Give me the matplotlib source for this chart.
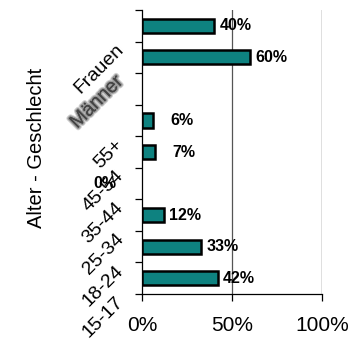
import matplotlib as mpl
mpl.use('Agg')
import matplotlib.pyplot as plt
import matplotlib.patheffects as pe
import matplotlib.transforms as mtrans
import numpy as np

plt.rcParams['font.family'] = ['Liberation Sans', 'DejaVu Sans']

# bottom to top; the empty slot separates the age groups from gender
categories = ['15-17', '18-24', '25-34', '35-44', '45-54', '55+', '', 'Männer', 'Frauen']
shares = [42, 33, 12, 0, 7, 6, None, 60, 40]
x_ticks = [0, 50, 100]
x_labels = ['0%', '50%', '100%']

fig = plt.figure(figsize=(3.57, 3.40), dpi=100)
ax = fig.add_axes([142/357., 1 - 294/340., 180/357., 284/340.])

pos = np.arange(len(categories))
for p, v in zip(pos, shares):
    if v is None:
        continue
    # a zero bar has no outline either
    ax.barh(p, v, height=0.45, color='#0E8280', edgecolor='black',
            linewidth=1.8 if v > 0 else 0, zorder=3)
    # small values get their label pushed further out, zero lands left of the axis
    if v == 0:
        lx = -27
    elif v < 10:
        lx = v + 10
    else:
        lx = v + 3
    ax.text(lx, p, '%d%%' % v, fontsize=11.5, fontweight='bold', va='center', ha='left',
            clip_on=False, zorder=4)

# category labels, rotated and shifted below their slot
lab_trans = mtrans.blended_transform_factory(ax.transAxes, ax.transData)
for p, c in zip(pos, categories):
    if not c:
        continue
    kw = {}
    if c == 'Männer':
        # smeared grey label
        kw = dict(color='#444444',
                  path_effects=[pe.withStroke(linewidth=3.5, foreground='#d0d0d0'),
                                pe.withStroke(linewidth=2.0, foreground='#999999'),
                                pe.Normal()])
    ax.text(-0.117, p - 0.68, c, transform=lab_trans, rotation=45, rotation_mode='anchor',
            ha='right', va='center', fontsize=14, clip_on=False, **kw)

ax.axvline(50, color='#555555', lw=0.9, zorder=1)
ax.axvline(100, color='black', lw=0.9, zorder=1)

ax.set_xlim(0, 100)
ax.set_ylim(-0.5, len(categories) - 0.5)
ax.set_xticks(x_ticks)
ax.set_xticklabels(x_labels, fontsize=15)
ax.set_yticks(np.arange(-0.5, len(categories), 1))
ax.set_yticklabels([])
ax.tick_params(axis='both', direction='out', length=5, width=0.9, color='black')
ax.tick_params(axis='x', pad=11)

for s in ['top', 'right']:
    ax.spines[s].set_visible(False)
for s in ['left', 'bottom']:
    ax.spines[s].set_linewidth(0.9)
    ax.spines[s].set_color('black')

fig.text(37/357., 1 - 148/340., 'Alter - Geschlecht', rotation=90, fontsize=14.5,
         ha='center', va='center')

fig.savefig('out.png', dpi=100, facecolor='w')
